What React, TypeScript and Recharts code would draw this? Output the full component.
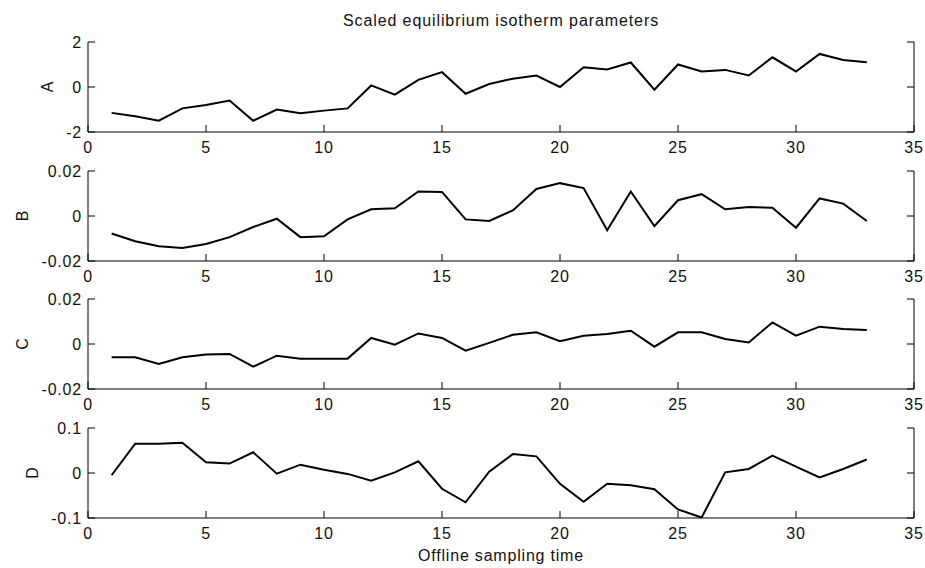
import React from 'react';
import { LineChart, Line, XAxis, YAxis } from 'recharts';

// sample index on the x axis
const sampleTimes = [
  1, 2, 3, 4, 5, 6, 7, 8, 9, 10, 11, 12, 13, 14, 15, 16, 17,
  18, 19, 20, 21, 22, 23, 24, 25, 26, 27, 28, 29, 30, 31, 32, 33,
];

const paramA = [
  -1.15, -1.3, -1.5, -0.95, -0.8, -0.6, -1.5, -1.0, -1.17, -1.05, -0.95, 0.07,
  -0.34, 0.32, 0.66, -0.3, 0.13, 0.37, 0.51, 0.0, 0.88, 0.78, 1.09, -0.12, 1.0,
  0.69, 0.76, 0.51, 1.32, 0.69, 1.47, 1.2, 1.1,
];
const paramB = [
  -0.0078, -0.0112, -0.0134, -0.0142, -0.0124, -0.0094, -0.0049, -0.0012,
  -0.0094, -0.009, -0.0015, 0.003, 0.0034, 0.0109, 0.0107, -0.0015, -0.0022,
  0.0025, 0.012, 0.0146, 0.0124, -0.0063, 0.0109, -0.0045, 0.007, 0.0097, 0.003,
  0.004, 0.0037, -0.0052, 0.0078, 0.0055, -0.0022,
];
const paramC = [
  -0.0059, -0.0059, -0.0089, -0.0059, -0.0047, -0.0044, -0.0101, -0.0052,
  -0.0065, -0.0065, -0.0065, 0.0027, -0.0003, 0.0047, 0.0027, -0.003, 0.0005,
  0.0041, 0.0052, 0.0012, 0.0037, 0.0044, 0.0059, -0.0012, 0.0052, 0.0052,
  0.0022, 0.0007, 0.0096, 0.0037, 0.0077, 0.0067, 0.0062,
];
const paramD = [
  -0.005, 0.065, 0.065, 0.067, 0.024, 0.021, 0.046, -0.0015, 0.0185, 0.0074,
  -0.002, -0.017, 0.0015, 0.026, -0.035, -0.065, 0.003, 0.042, 0.037, -0.024,
  -0.064, -0.024, -0.027, -0.036, -0.081, -0.099, 0.0015, 0.009, 0.0385, 0.014,
  -0.0096, 0.009, 0.03,
];

const xTicks = [0, 5, 10, 15, 20, 25, 30, 35];
const ticksA = [-2, 0, 2];
const ticksB = [-0.02, 0, 0.02];
const ticksC = [-0.02, 0, 0.02];
const ticksD = [-0.1, 0, 0.1];

const FONT = '"Liberation Sans", Arial, Helvetica, sans-serif';
const INK = '#111';

const BottomTick = ({ x, y, payload }: any) => (
  <g>
    <line x1={x} y1={y} x2={x} y2={y - 7} stroke="#000" />
    <text x={x} y={y + 21} textAnchor="middle" fontSize={16} letterSpacing={0.8} fill={INK} fontFamily={FONT}>
      {payload.value}
    </text>
  </g>
);

const TopTick = ({ x, y }: any) => <line x1={x} y1={y} x2={x} y2={y + 7} stroke="#000" />;

const LeftTick = ({ x, y, payload }: any) => (
  <g>
    <line x1={x} y1={y} x2={x + 7} y2={y} stroke="#000" />
    <text x={x - 6} y={y + 5.5} textAnchor="end" fontSize={16} letterSpacing={0.8} fill={INK} fontFamily={FONT}>
      {String(payload.value)}
    </text>
  </g>
);

const RightTick = ({ x, y }: any) => <line x1={x} y1={y} x2={x - 7} y2={y} stroke="#000" />;

const YLabel = ({ viewBox, text, cx }: any) => {
  const cy = viewBox.y + viewBox.height / 2;
  return (
    <text
      x={cx}
      y={cy}
      transform={`rotate(-90, ${cx}, ${cy})`}
      textAnchor="middle"
      dominantBaseline="central"
      fontSize={16}
      fill={INK}
      fontFamily={FONT}
    >
      {text}
    </text>
  );
};

interface PanelProps {
  values: number[];
  ticks: number[];
  label: string;
  labelX: number;
  top: number;
}

const Panel: React.FC<PanelProps> = ({ values, ticks, label, labelX, top }) => {
  const data = sampleTimes.map((t, i) => ({ t, v: values[i] }));
  const domain = [ticks[0], ticks[ticks.length - 1]];
  return (
    <div style={{ position: 'absolute', left: 0, top: top - 10 }}>
      <LineChart width={925} height={130} data={data} margin={{ top: 10, right: 0, bottom: 0, left: 0 }}>
        <XAxis
          dataKey="t"
          type="number"
          domain={[0, 35]}
          ticks={xTicks}
          height={30}
          tickSize={0}
          tickMargin={0}
          tickLine={false}
          axisLine={{ stroke: '#000' }}
          tick={<BottomTick />}
          interval={0}
          allowDataOverflow
        />
        <XAxis
          xAxisId="top"
          orientation="top"
          dataKey="t"
          type="number"
          domain={[0, 35]}
          ticks={xTicks}
          height={0}
          tickSize={0}
          tickMargin={0}
          tickLine={false}
          axisLine={{ stroke: '#000' }}
          tick={<TopTick />}
          interval={0}
          allowDataOverflow
        />
        <YAxis
          type="number"
          domain={domain}
          ticks={ticks}
          width={88}
          tickSize={0}
          tickMargin={0}
          tickLine={false}
          axisLine={{ stroke: '#000' }}
          tick={<LeftTick />}
          interval={0}
          allowDataOverflow
          label={<YLabel text={label} cx={labelX} />}
        />
        <YAxis
          yAxisId="right"
          orientation="right"
          type="number"
          domain={domain}
          ticks={ticks}
          width={11}
          tickSize={0}
          tickMargin={0}
          tickLine={false}
          axisLine={{ stroke: '#000' }}
          tick={<RightTick />}
          interval={0}
          allowDataOverflow
        />
        <Line
          type="linear"
          dataKey="v"
          stroke="#000"
          strokeWidth={2}
          dot={false}
          isAnimationActive={false}
        />
      </LineChart>
    </div>
  );
};

export default function App() {
  return (
    <div
      style={{
        position: 'absolute',
        left: 0,
        top: 0,
        width: 925,
        height: 568,
        background: '#fff',
        fontFamily: FONT,
        overflow: 'hidden',
      }}
    >
      <div
        style={{
          position: 'absolute',
          left: 88,
          width: 826,
          top: 11,
          textAlign: 'center',
          fontSize: 16,
          letterSpacing: 0.9,
          color: INK,
          lineHeight: '20px',
        }}
      >
        Scaled equilibrium isotherm parameters
      </div>
      <Panel values={paramA} ticks={ticksA} label="A" labelX={47} top={42} />
      <Panel values={paramB} ticks={ticksB} label="B" labelX={22} top={171} />
      <Panel values={paramC} ticks={ticksC} label="C" labelX={22} top={299} />
      <Panel values={paramD} ticks={ticksD} label="D" labelX={32} top={428} />
      <div
        style={{
          position: 'absolute',
          left: 88,
          width: 826,
          top: 546,
          textAlign: 'center',
          fontSize: 16,
          letterSpacing: 0.8,
          color: INK,
          lineHeight: '20px',
        }}
      >
        Offline sampling time
      </div>
    </div>
  );
}
